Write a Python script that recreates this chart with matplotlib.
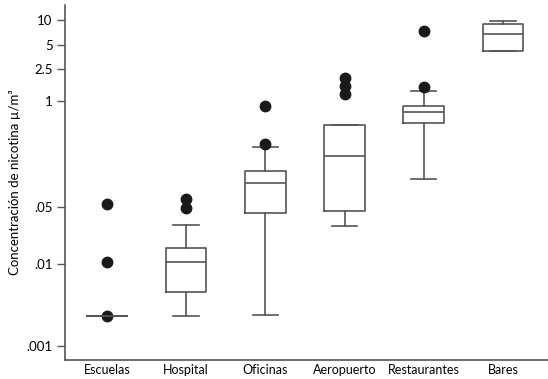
import matplotlib
matplotlib.use("Agg")
import matplotlib.pyplot as plt

categories = ["Escuelas", "Hospital", "Oficinas", "Aeropuerto", "Restaurantes", "Bares"]
q1 = [0.0023, 0.00453, 0.0423, 0.0447, 0.537, 4.22]
med = [0.0023, 0.0106, 0.101, 0.217, 0.733, 6.83]
q3 = [0.0023, 0.0157, 0.142, 0.52, 0.89, 9.06]
whislo = [0.0023, 0.0023, 0.0024, 0.0292, 0.113, 4.22]
whishi = [0.0023, 0.0302, 0.28, 0.52, 1.33, 9.87]
fliers = [[0.0023, 0.0106, 0.0545], [0.0487, 0.063], [0.30, 0.89],
          [1.25, 1.53, 1.97], [1.49, 7.43], []]
ytick_vals = [0.001, 0.01, 0.05, 1, 2.5, 5, 10]
ytick_labels = [".001", ".01", ".05", "1", "2.5", "5", "10"]

plt.rcParams['font.family'] = ['Lato', 'DejaVu Sans']

fig = plt.figure(figsize=(5.48, 3.79), dpi=100)
ax = fig.add_axes([65/548, 1 - 360/379, 1 - 65/548, 355/379])

stats = []
for i in range(len(categories)):
    stats.append(dict(med=med[i], q1=q1[i], q3=q3[i], whislo=whislo[i],
                      whishi=whishi[i], fliers=fliers[i], label=categories[i]))

gray = "#555555"
ax.bxp(stats, positions=range(1, 7), widths=0.51, capwidths=0.32, showcaps=True,
       boxprops=dict(color=gray, linewidth=1.2),
       medianprops=dict(color=gray, linewidth=1.2),
       whiskerprops=dict(color=gray, linewidth=1.2),
       capprops=dict(color=gray, linewidth=1.2),
       flierprops=dict(marker='o', markerfacecolor='#1a1a1a', markeredgecolor='#1a1a1a',
                       markersize=7.5, linestyle='none'))

ax.set_yscale('log')
ax.set_ylim(0.00067, 15.3)
ax.set_xlim(0.47, 6.57)
ax.set_yticks(ytick_vals)
ax.set_yticklabels(ytick_labels)
ax.minorticks_off()
ax.set_xticks(range(1, 7))
ax.set_xticklabels(categories)
ax.tick_params(axis='x', length=0, pad=3, labelsize=9)
ax.tick_params(axis='y', length=6, width=1, color=gray, pad=3, labelsize=9.5)
ax.spines['top'].set_visible(False)
ax.spines['right'].set_visible(False)
ax.spines['left'].set_color(gray)
ax.spines['bottom'].set_color(gray)
ax.spines['left'].set_linewidth(1.2)
ax.spines['bottom'].set_linewidth(1.2)
ax.set_ylabel("Concentración de nicotina µ/m³", fontsize=9.5, labelpad=4)

fig.savefig("out.png", dpi=100)
